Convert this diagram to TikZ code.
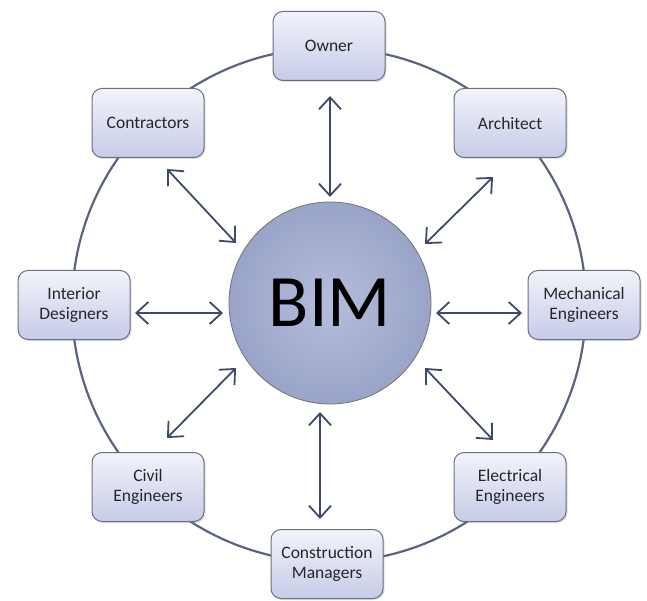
\documentclass[tikz,border=0pt]{standalone}
\usepackage{fontspec}
\setmainfont{Carlito}
\usetikzlibrary{arrows.meta,shadows}
\definecolor{ringc}{HTML}{5A6482}
\definecolor{arrc}{HTML}{3E4A6C}
\definecolor{boxtop}{HTML}{F2F3FA}
\definecolor{boxbot}{HTML}{C6CCE8}
\definecolor{boxdraw}{HTML}{6A6F80}
\definecolor{bimin}{HTML}{B4BDDC}
\definecolor{bimout}{HTML}{9AA4C8}
\begin{document}
\begin{tikzpicture}[x=1pt,y=-1pt,
  party/.style={draw=boxdraw, line width=1pt, rounded corners=10pt,
    top color=boxtop, bottom color=boxbot, minimum width=112pt, minimum height=69pt,
    align=center, font=\fontsize{17.5}{19.5}\selectfont, text=black!85,
    drop shadow={shadow xshift=1.5pt, shadow yshift=-1.5pt, opacity=0.25}},
  link/.style={draw=arrc, line width=1.8pt, {Straight Barb[length=12pt,width=22pt,line width=1.8pt]}-{Straight Barb[length=12pt,width=22pt,line width=1.8pt]}}
]
\useasboundingbox (0,0) rectangle (647,601);
\coordinate (c) at (329,305);
\draw[ringc, line width=2.2pt] (c) circle[radius=257];
\node[circle, draw=black!55, line width=0.8pt, minimum size=202pt, inner color=bimin, outer color=bimout,
  font=\fontsize{74}{74}\selectfont, text=black] (bim) at (330,303) {BIM};
\node[party] (own) at (329,46) {Owner};
\node[party] (arc) at (510,123) {Architect};
\node[party] (mec) at (584,305) {Mechanical\\Engineers};
\node[party] (ele) at (510,487) {Electrical\\Engineers};
\node[party] (con) at (327,564) {Construction\\Managers};
\node[party] (civ) at (148,487) {Civil\\Engineers};
\node[party] (int) at (74,305) {Interior\\Designers};
\node[party] (ctr) at (148,123) {Contractors};
\coordinate (o1) at (330,96); \coordinate (o2) at (330,197);
\coordinate (a1) at (493,177); \coordinate (a2) at (425,244);
\coordinate (m1) at (522,313); \coordinate (m2) at (436,313);
\coordinate (e1) at (493,440); \coordinate (e2) at (425,368);
\coordinate (k1) at (320,519); \coordinate (k2) at (320,412);
\coordinate (v1) at (167,438); \coordinate (v2) at (236,368);
\coordinate (i1) at (135,313); \coordinate (i2) at (223,313);
\coordinate (t1) at (167,169); \coordinate (t2) at (236,243);
\draw[link] (o1) -- (o2);
\draw[link] (a1) -- (a2);
\draw[link] (m1) -- (m2);
\draw[link] (e1) -- (e2);
\draw[link] (k1) -- (k2);
\draw[link] (v1) -- (v2);
\draw[link] (i1) -- (i2);
\draw[link] (t1) -- (t2);
\end{tikzpicture}
\end{document}
